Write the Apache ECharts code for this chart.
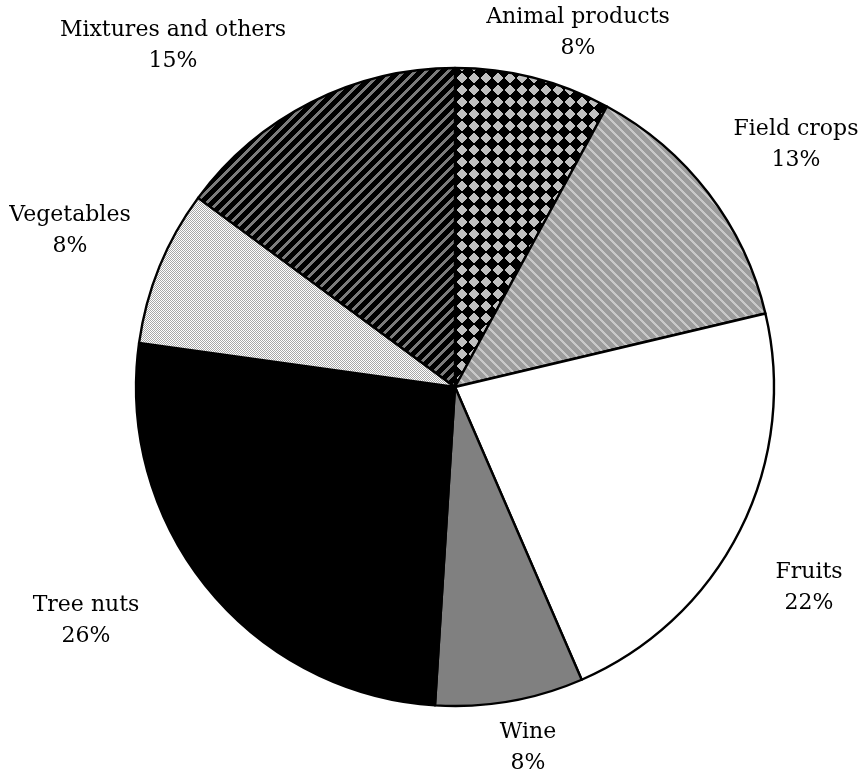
<!DOCTYPE html>
<html>
<head>
<meta charset="utf-8">
<script src="https://cdn.jsdelivr.net/npm/echarts@6/dist/echarts.min.js"></script>
<style>
html,body{margin:0;padding:0;background:#fff;}
#chart{width:861px;height:778px;}
</style>
</head>
<body>
<div id="chart"></div>
<script>
// ---- data ----
const categories = ["Animal products", "Field crops", "Fruits", "Wine", "Tree nuts", "Vegetables", "Mixtures and others"];
const shares = [7.9, 13.4, 22.2, 7.5, 26.2, 7.9, 14.9];

// ---- label anchor points (layout, px) ----
const labelPos = [[578, 33], [796, 145], [809, 588], [528, 748], [86, 621], [70, 231], [173, 46]];

// ---- pattern fills ----
function tile(w, h, fn) {
  const c = document.createElement('canvas');
  c.width = w; c.height = h;
  const ctx = c.getContext('2d');
  fn(ctx, w, h);
  return c;
}
function pix(ctx, w, h, test, on, off) {
  for (let y = 0; y < h; y++) for (let x = 0; x < w; x++) {
    ctx.fillStyle = test(x, y) ? on : off;
    ctx.fillRect(x, y, 1, 1);
  }
}
const diamond = tile(12, 12, (ctx, w, h) => {
  pix(ctx, w, h, (x, y) => Math.abs(x + 0.5 - 6) + Math.abs(y + 0.5 - 6) <= 5.2, '#c0c0c0', '#000000');
});
const fieldStripe = tile(10, 10, (ctx, w, h) => {
  pix(ctx, w, h, (x, y) => (((x - y) % 10) + 10) % 10 < 3, '#c8c8c8', '#9c9c9c');
});
const vegCheck = tile(2, 2, (ctx, w, h) => {
  pix(ctx, w, h, (x, y) => ((x + y) % 2) === 0, '#a8a8a8', '#ffffff');
});
const mixStripe = tile(11, 11, (ctx, w, h) => {
  pix(ctx, w, h, (x, y) => ((x + y) % 11) < 4, '#7c7c7c', '#000000');
});
const fills = [
  {image: diamond, repeat: 'repeat'},
  {image: fieldStripe, repeat: 'repeat'},
  '#ffffff',
  '#808080',
  '#000000',
  {image: vegCheck, repeat: 'repeat'},
  {image: mixStripe, repeat: 'repeat'}
];

const chart = echarts.init(document.getElementById('chart'), null, {renderer: 'canvas'});
chart.setOption({
  animation: false,
  backgroundColor: '#ffffff',
  series: [{
    type: 'pie',
    center: [455, 387],
    radius: 319,
    startAngle: 90,
    clockwise: true,
    avoidLabelOverlap: false,
    data: categories.map((c, i) => ({
      name: c,
      value: shares[i],
      itemStyle: {color: fills[i]}
    })),
    itemStyle: {borderColor: '#000000', borderWidth: 2.4},
    emphasis: {disabled: true},
    label: {
      show: true,
      position: 'outside',
      formatter: p => p.name + '\n' + Math.round(p.percent) + '%',
      fontFamily: 'DejaVu Serif',
      fontSize: 22,
      lineHeight: 31,
      color: '#000000',
      align: 'center'
    },
    labelLine: {show: false},
    labelLayout: function (params) {
      const p = labelPos[params.dataIndex];
      return {x: p[0], y: p[1], align: 'center', verticalAlign: 'middle'};
    }
  }]
});
</script>
</body>
</html>
